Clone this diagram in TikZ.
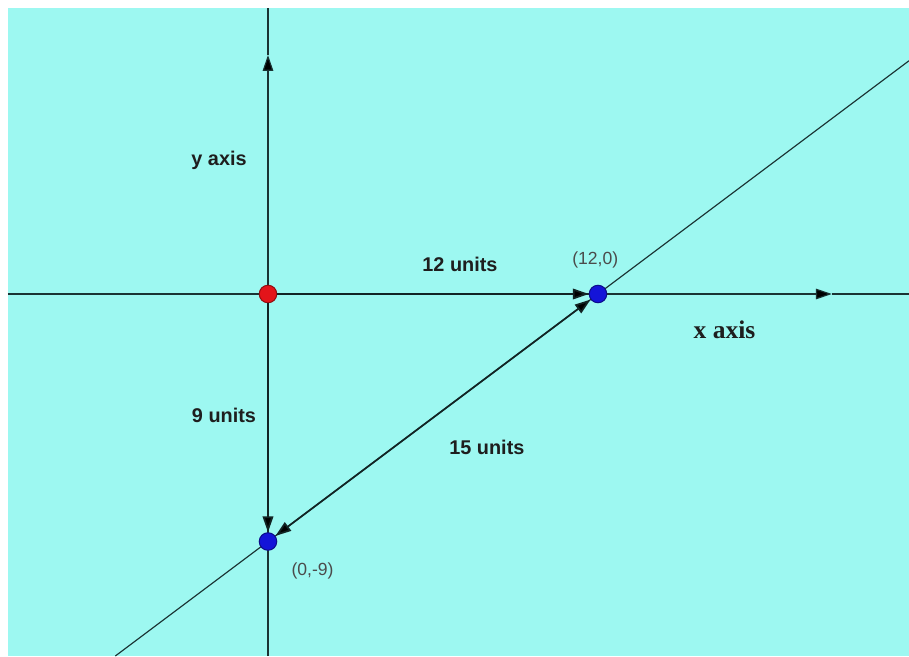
\documentclass[tikz,border=0pt]{standalone}
\usepackage{fontspec}
\setmainfont{Liberation Sans}
\newfontfamily\axisserif{Liberation Serif}
\usetikzlibrary{arrows.meta, positioning}
\definecolor{cSea}{HTML}{9DF8F1}
\definecolor{cLine}{HTML}{1A3333}
\definecolor{cText}{HTML}{1E1E1E}
\definecolor{cRed}{HTML}{E3141A}
\definecolor{cBlue}{HTML}{1414D8}
\tikzset{
  pointdot/.style={
    circle, draw=#1!65!black, fill=#1, minimum size=0.35cm,
    inner sep=0pt, line width=0.6pt,
  },
  axisline/.style={draw=cLine, line width=0.65pt},
  segline/.style={draw=cLine!70!black, line width=1pt},
  arw/.style={-{Triangle[length=9pt, width=6pt, fill=black]}},
  darw/.style={{Triangle[length=9pt, width=6pt, fill=black]}-{Triangle[length=9pt, width=6pt, fill=black]}},
  lbl/.style={font=\fontsize{11.3}{13}\selectfont\bfseries, text=cText},
  coordlbl/.style={font=\fontsize{10}{12}\selectfont, text=cText!80},
}

\begin{document}
\begin{tikzpicture}[x=0.55cm, y=0.55cm]
  % Frame
  \useasboundingbox (-9.745,-13.164) rectangle (23.309,10.691);
  \fill[white] (-9.745,-13.164) rectangle (23.309,10.691);
  \fill[cSea] (-9.455,-13.164) rectangle (23.309,10.4);

  % Axes
  \coordinate (xl) at (-9.455,0);
  \coordinate (xtip) at (20.5,0);
  \coordinate (xr) at (23.309,0);
  \coordinate (yb) at (0,-13.164);
  \coordinate (ytip) at (0,8.69);
  \coordinate (yt) at (0,10.4);
  \draw[axisline, arw] (xl) -- (xtip);
  \draw[axisline] (xtip) -- (xr);
  \draw[axisline, arw] (yb) -- (ytip);
  \draw[axisline] (ytip) -- (yt);

  % Line through the two points
  \coordinate (lb) at (-5.552,-13.164);
  \coordinate (lt) at (23.309,8.482);
  \draw[axisline] (lb) -- (lt);

  % Points
  \node[pointdot=cRed] (o) at (0,0) {};
  \node[pointdot=cBlue] (a) at (12,0) {};
  \node[pointdot=cBlue] (b) at (0,-9) {};

  \draw[segline, arw] (o) -- (a);
  \draw[segline, arw] (o) -- (b);
  \draw[segline, darw] (a) -- (b);

  % Labels
  \node[lbl] (ylbl) at (-1.78,4.87) {y axis};
  \node[lbl] (xunits) at (6.98,1.09) {12 units};
  \node[coordlbl] (alabel) at (11.9,1.25) {(12,0)};
  \node[font=\axisserif\fontsize{14.5}{16}\selectfont\bfseries, text=cText]
    (xlbl) at (16.6,-1.3) {x axis};
  \node[lbl] (yunits) at (-1.6,-4.4) {9 units};
  \node[lbl] (hunits) at (7.96,-5.56) {15 units};
  \node[coordlbl] (blabel) at (1.62,-10.07) {(0,-9)};
\end{tikzpicture}
\end{document}
